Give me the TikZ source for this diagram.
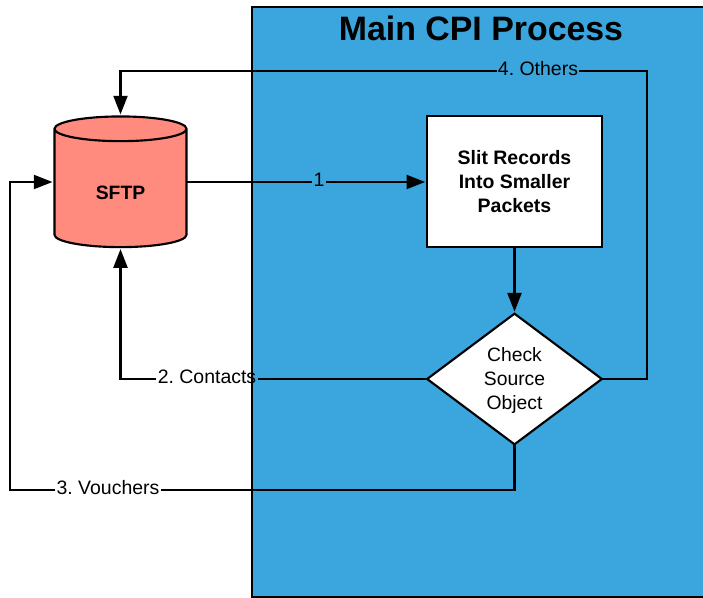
\documentclass[tikz,border=0pt]{standalone}
\usepackage{fontspec}
\setmainfont{Liberation Sans}
\usetikzlibrary{shapes.geometric,arrows.meta}
\definecolor{panelblue}{HTML}{3AA6DD}
\definecolor{sftpred}{HTML}{FF8A7E}
\tikzset{
  flowline/.style={line width=1.6pt},
  flowarrow/.style={flowline, -{Triangle[length=14pt,width=10.5pt]}, shorten >=1.5pt},
  flowlabel/.style={font=\fontsize{14.6}{18}\selectfont, text height=11pt, text depth=3.6pt, inner xsep=1pt, inner ysep=0pt, outer sep=0pt},
  boxtext/.style={font=\fontsize{14.5}{18}\selectfont, align=center, inner sep=0pt, outer sep=0pt, draw, line width=1.6pt, fill=white}
}
\begin{document}
\frenchspacing
\begin{tikzpicture}[x=0.75pt,y=-0.75pt]
\useasboundingbox (0,0) rectangle (703,598);
\draw[fill=panelblue, line width=1.6pt] (252,7) rectangle (715,597);
\node[font=\bfseries\fontsize{25.4}{30}\selectfont] (title) at (481,28) {Main CPI Process};

\node[cylinder, shape border rotate=90, aspect=0.5, draw, fill=sftpred, line width=1.6pt,
  minimum width=99pt, minimum height=98pt, inner sep=0pt, outer sep=0pt, text height=16.4pt,
  font=\bfseries\fontsize{14.5}{18}\selectfont] (sftp) at (120.5,188.5) {SFTP};
\node[boxtext, font=\bfseries\fontsize{14.6}{18}\selectfont, minimum width=131pt, minimum height=98pt] (slit) at (514.5,181.5) {Slit Records\\Into Smaller\\Packets};
\node[boxtext, diamond, aspect=1.34, minimum width=131pt, minimum height=98pt] (check) at (514.5,379) {};
\node[font=\fontsize{14.5}{18}\selectfont, align=center] (checktext) at (514.5,380.5) {Check\\Source\\Object};

\node[flowlabel] (one) at (319,182) {1};
\node[flowlabel] (contacts) at (207,379) {2. Contacts};
\node[flowlabel] (vouchers) at (108,490) {3. Vouchers};
\node[flowlabel] (others) at (538,71) {4. Others};

\draw[flowline] (sftp.east |- one) -- (one.west);
\draw[flowarrow] (one.east) -- (slit.west |- one);
\draw[flowarrow] (slit.south) -- (check.north);
\draw[flowline] (check.west) -- (contacts.east);
\draw[flowarrow] (contacts.west) -| (sftp.south);
\draw[flowline] (check.south) |- (vouchers.east);
\draw[flowarrow] (vouchers.west) -| (10,182) -- (sftp.west |- one);
\draw[flowline] (check.east) -| (647,71) -- (others.east);
\draw[flowarrow] (others.west) -| (sftp.north);
\end{tikzpicture}
\end{document}
